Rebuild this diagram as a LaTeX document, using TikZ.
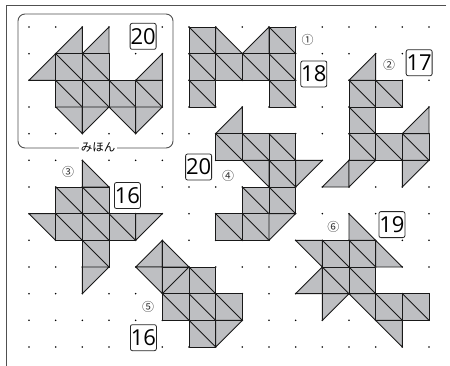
\documentclass[tikz,border=0pt]{standalone}
\usepackage{fontspec}
\setmainfont{Open Sans}
\newfontfamily\cjkfont{Noto Sans CJK JP}
\definecolor{shpfill}{RGB}{190,191,194}
\definecolor{framec}{RGB}{80,80,80}
\tikzset{
  shp/.style={fill=shpfill, draw=black!90, line width=0.9pt, line join=round},
  ln/.style={draw=black!90, line width=0.9pt, line cap=round},
  numbox/.style={draw=black!85, fill=white, line width=0.8pt, rounded corners=2pt,
    minimum width=26pt, minimum height=26pt, inner sep=0pt,
    font=\fontsize{22}{22}\selectfont},
  circnum/.style={font=\cjkfont\fontsize{12}{12}\selectfont, inner sep=0pt, text=black!80},
  gdot/.style={fill=black},
}
\newcommand{\mytri}[3]{\path[shp] #1 -- #2 -- #3 -- cycle;}
\newcommand{\mysqd}[2]{\path[shp] (#1,#2) rectangle ++(1,1); \draw[ln] (#1,#2) -- ++(1,1);}
\newcommand{\mysqa}[2]{\path[shp] (#1,#2) rectangle ++(1,1); \draw[ln] (#1,#2) ++(1,0) -- ++(-1,1);}
\begin{document}
\begin{tikzpicture}[x=1pt,y=-1pt]
\useasboundingbox (0,0) rectangle (450,366);
\fill[white] (0,0) rectangle (450,366);
% frame
\draw[framec, line width=1pt] (446,6) -- (6,6) -- (6,366);
% sample box
\draw[framec, line width=0.9pt, rounded corners=7pt] (18,14) rectangle (173,148);
\node[fill=white, inner sep=2pt, font=\cjkfont\fontsize{11.5}{11.5}\selectfont] (mihon) at (98,147.5) {みほん};
\begin{scope}[xshift=29pt, yshift=-27pt, x=26.667pt, y=-26.667pt]
% dots
\foreach \i in {0,...,15} \foreach \j in {0,...,12} \fill[gdot] (\i,\j) circle (0.9pt);
% sample shape
\mytri{(2,0)}{(1,1)}{(2,1)}
\mytri{(3,0)}{(2,1)}{(3,1)}
\mytri{(1,1)}{(0,2)}{(1,2)}
\mysqd{1}{1}\mysqd{2}{1}
\mysqd{1}{2}\mysqd{2}{2}\mysqd{3}{2}\mysqd{4}{2}
\mytri{(5,1)}{(4,2)}{(5,2)}
\mytri{(1,3)}{(2,3)}{(2,4)}\mytri{(2,3)}{(3,3)}{(2,4)}
\mytri{(3,3)}{(4,3)}{(4,4)}\mytri{(4,3)}{(5,3)}{(4,4)}
% shape 1
\mysqd{6}{0}\mytri{(7,0)}{(7,1)}{(8,1)}\mytri{(8,1)}{(9,0)}{(9,1)}\mysqd{9}{0}
\mysqd{6}{1}\mysqd{7}{1}\mysqd{8}{1}\mysqd{9}{1}
\mysqd{6}{2}\mysqd{9}{2}
% shape 2
\mytri{(12,2)}{(13,1)}{(13,2)}
\mysqd{12}{2}\mysqd{13}{2}
\mysqd{12}{3}
\mysqd{12}{4}\mysqd{13}{4}\mysqd{14}{4}
\mytri{(14,4)}{(15,3)}{(15,4)}
\mytri{(11,6)}{(12,5)}{(12,6)}\mytri{(12,5)}{(13,5)}{(12,6)}
\mytri{(14,5)}{(15,5)}{(14,6)}
% shape 3
\mytri{(2,5)}{(2,6)}{(3,6)}
\mysqd{1}{6}\mysqd{2}{6}
\mytri{(0,7)}{(1,7)}{(1,8)}
\mysqd{1}{7}\mysqd{2}{7}\mysqd{3}{7}
\mytri{(4,7)}{(5,7)}{(4,8)}
\mysqd{2}{8}
\mytri{(2,9)}{(3,9)}{(2,10)}
% shape 4
\mytri{(7,4)}{(8,3)}{(8,4)}
\mysqd{7}{4}\mysqd{8}{4}\mysqd{9}{4}
\mytri{(8,5)}{(9,5)}{(9,6)}\mysqd{9}{5}\mytri{(10,5)}{(11,5)}{(10,6)}
\mysqd{8}{6}\mysqd{9}{6}
\mysqd{7}{7}\mysqd{8}{7}\mytri{(9,7)}{(10,7)}{(9,8)}
% shape 5
\mytri{(4,9)}{(5,8)}{(5,9)}\mytri{(5,8)}{(6,9)}{(5,9)}
\mytri{(4,9)}{(5,9)}{(5,10)}
\mysqa{5}{9}\mysqd{6}{9}
\mysqd{5}{10}\mysqd{6}{10}\mysqd{7}{10}
\mysqd{6}{11}
\mytri{(7,11)}{(8,11)}{(7,12)}
% shape 6
\mytri{(12,7)}{(12,8)}{(13,8)}
\mytri{(10,8)}{(11,8)}{(11,9)}\mysqd{11}{8}\mysqd{12}{8}\mytri{(13,8)}{(13,9)}{(14,9)}
\mytri{(10,10)}{(11,9)}{(11,10)}\mysqd{11}{9}\mysqd{12}{9}
\mytri{(11,10)}{(12,10)}{(11,11)}\mytri{(12,10)}{(13,10)}{(13,11)}\mysqd{13}{10}\mysqd{14}{10}
\mytri{(13,11)}{(14,11)}{(14,12)}
% circled numbers
\node[circnum] (c1) at (10.45,0.49) {①};
\node[circnum] (c2) at (13.5,1.42) {②};
\node[circnum] (c3) at (1.47,5.43) {③};
\node[circnum] (c4) at (7.47,5.59) {④};
\node[circnum] (c5) at (4.47,10.49) {⑤};
\node[circnum] (c6) at (11.41,7.51) {⑥};
% count boxes
\node[numbox] (b0) at (4.28,0.35) {20};
\node[numbox] (b1) at (10.68,1.76) {18};
\node[numbox] (b2) at (14.63,1.34) {17};
\node[numbox] (b3) at (3.69,6.32) {16};
\node[numbox] (b4) at (6.36,5.25) {20};
\node[numbox] (b5) at (4.29,11.65) {16};
\node[numbox] (b6) at (13.61,7.41) {19};
\end{scope}
\end{tikzpicture}
\end{document}
